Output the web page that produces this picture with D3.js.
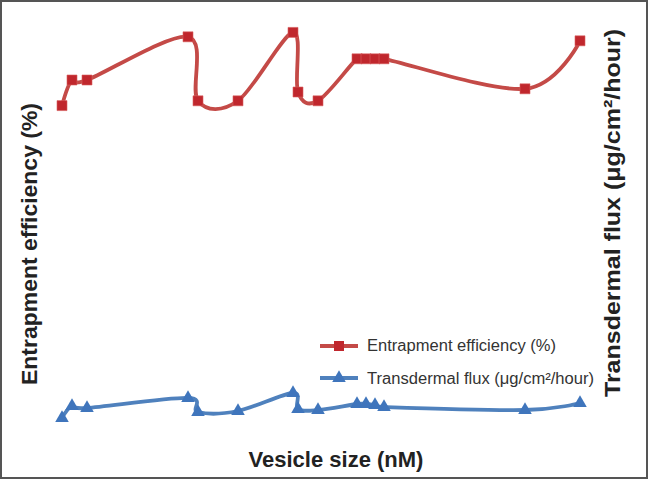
<!DOCTYPE html>
<html><head><meta charset="utf-8">
<script src="https://cdn.jsdelivr.net/npm/d3@7"></script>
<style>body{margin:0;background:#fff}svg{display:block}</style>
</head><body>
<svg id="c" width="648" height="479"></svg>
<script>
// Data
const vesicleSize = [150,160,175,276,286,326,381,386,406,445,454,463,472,613,668];
const entrapment = [78.6,85,85,95.8,79.8,79.8,96.9,82,79.8,90.3,90.3,90.3,90.3,82.8,94.8];
const flux = [2.2,3.4,3.2,4.2,2.8,2.9,4.7,3.1,3.0,3.6,3.6,3.5,3.3,3.0,3.7];
const seriesNames = ["Entrapment efficiency (%)", "Transdermal flux (μg/cm²/hour)"];
const xTitle = "Vesicle size (nM)";
const yLeftTitle = "Entrapment efficiency (%)";
const yRightTitle = "Transdermal flux (μg/cm²/hour)";

const W = 648, H = 479;
const svg = d3.select("#c");
const x = d3.scaleLinear().domain([150,668]).range([62,580]);
const yL = d3.scaleLinear().domain([0,100]).range([420,20]);
const yR = d3.scaleLinear().domain([0,42]).range([440,20]);
const red = "#C44A47", redM = "#C0272D", blue = "#4F81BD", blueM = "#3F75BC";
const curve = d3.curveCardinal.tension(0);

svg.append("rect").attr("x",1).attr("y",1).attr("width",W-2).attr("height",H-2)
  .attr("fill","#fff").attr("stroke","#555").attr("stroke-width",2);

const redData = vesicleSize.map((v,i)=>[v,entrapment[i]]);
const blueData = vesicleSize.map((v,i)=>[v,flux[i]]);

svg.append("path").datum(redData)
  .attr("d", d3.line().x(d=>x(d[0])).y(d=>yL(d[1])).curve(curve))
  .attr("fill","none").attr("stroke",red).attr("stroke-width",3.8);
svg.append("path").datum(blueData)
  .attr("d", d3.line().x(d=>x(d[0])).y(d=>yR(d[1])).curve(curve))
  .attr("fill","none").attr("stroke",blue).attr("stroke-width",3.8);

const sq = d3.symbol().type(d3.symbolSquare).size(100);
const tri = d3.symbol().type(d3.symbolTriangle).size(80);
svg.append("g").selectAll("path").data(redData).join("path")
  .attr("d", sq).attr("transform", d=>`translate(${x(d[0])},${yL(d[1])})`)
  .attr("fill",redM).attr("stroke","#D9605F").attr("stroke-width",0.6);
svg.append("g").selectAll("path").data(blueData).join("path")
  .attr("d", tri).attr("transform", d=>`translate(${x(d[0])},${yR(d[1])})`).attr("fill",blueM);

// Legend
const lg = svg.append("g");
[[346,red,redM,sq,seriesNames[0],351,189],[378,blue,blueM,tri,seriesNames[1],383.5,227]].forEach(([ly,c,mc,sym,t,ty,tl])=>{
  lg.append("line").attr("x1",320).attr("x2",358).attr("y1",ly).attr("y2",ly).attr("stroke",c).attr("stroke-width",3.8);
  lg.append("path").attr("d",sym).attr("transform",`translate(339,${ly})`).attr("fill",mc);
  lg.append("text").attr("x",367).attr("y",ty).text(t)
    .attr("textLength",tl).attr("lengthAdjust","spacingAndGlyphs")
    .attr("font-family","Liberation Sans, Arial, sans-serif").attr("font-size",16).attr("fill","#333");
});

// Titles
const tf = "Liberation Sans, Arial, sans-serif";
svg.append("text").attr("x",336).attr("y",467).attr("text-anchor","middle")
  .attr("font-family",tf).attr("font-weight","bold").attr("font-size",22).attr("fill","#222").text(xTitle);
svg.append("text").attr("transform","translate(37,244) rotate(-90)").attr("text-anchor","middle")
  .attr("textLength",282).attr("lengthAdjust","spacingAndGlyphs")
  .attr("font-family",tf).attr("font-weight","bold").attr("font-size",22).attr("fill","#222").text(yLeftTitle);
svg.append("text").attr("transform","translate(620,213) rotate(-90)").attr("text-anchor","middle")
  .attr("textLength",368).attr("lengthAdjust","spacingAndGlyphs")
  .attr("font-family",tf).attr("font-weight","bold").attr("font-size",22).attr("fill","#222").text(yRightTitle);
</script>
</body></html>
